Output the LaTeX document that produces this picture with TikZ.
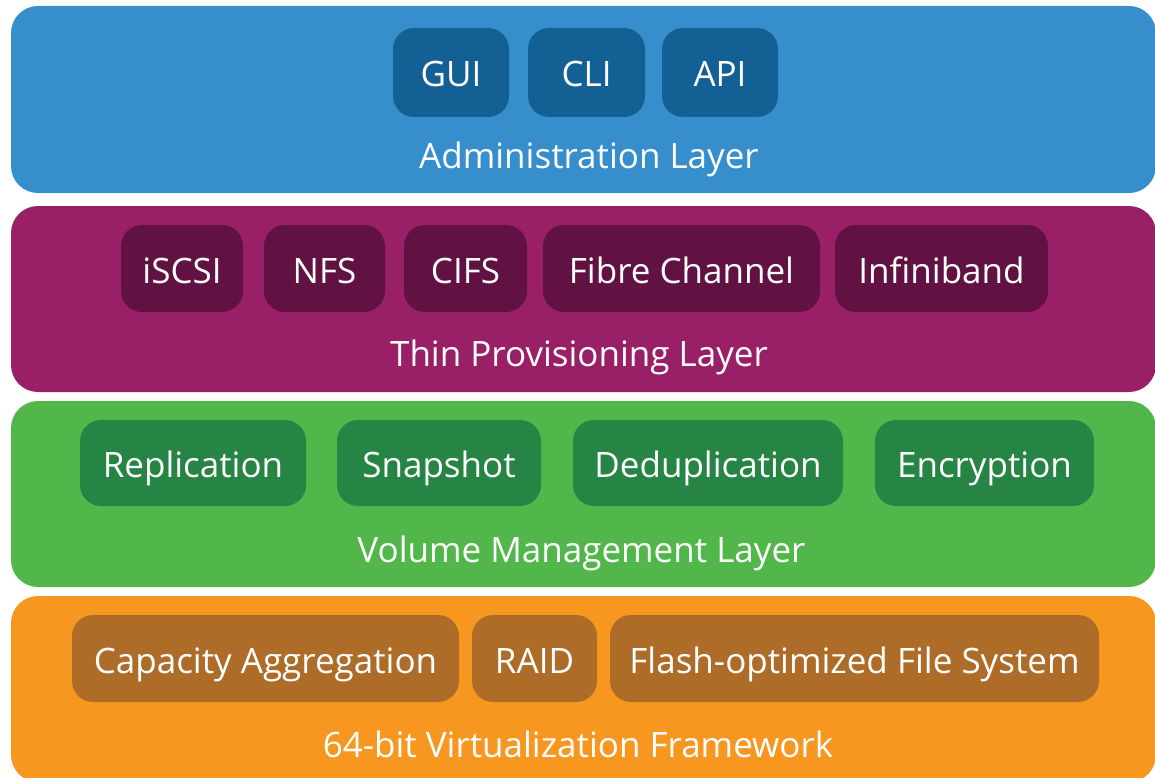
\documentclass[tikz,border=0pt]{standalone}
\usepackage{fontspec}
\setmainfont{Open Sans}
\usepackage{xcolor}
\usetikzlibrary{positioning}
\definecolor{adminbg}{HTML}{368ECC}
\definecolor{admindk}{HTML}{136094}
\definecolor{thinbg}{HTML}{991F67}
\definecolor{thindk}{HTML}{611242}
\definecolor{volbg}{HTML}{52B74A}
\definecolor{voldk}{HTML}{268444}
\definecolor{frambg}{HTML}{F7971F}
\definecolor{framdk}{HTML}{AD6C28}
\tikzset{layer/.style={rectangle,rounded corners=27pt,minimum width=1145pt,inner sep=0pt},
  item/.style={rectangle,rounded corners=21pt,inner sep=0pt,text=white,font=\fontsize{35}{40}\selectfont,text height=34pt,text depth=5pt},
  layertxt/.style={anchor=base,text=white,inner sep=0pt,font=\fontsize{35}{40}\selectfont}}

\begin{document}
\begin{tikzpicture}[x=1pt,y=-1pt]
    \useasboundingbox[fill=white] (0,0) rectangle (1155,778);

    \node[layer,fill=adminbg,minimum height=187pt] (admin)at (583.5,99.5) {};
    \node[layer,fill=thinbg,minimum height=186pt] (thin)at (583.5,299) {};
    \node[layer,fill=volbg,minimum height=186pt] (vol)at (583.5,494) {};
    \node[layer,fill=frambg,minimum height=186pt] (fram)at (583.5,689) {};

    \node[item,fill=admindk,minimum width=116pt,minimum height=89pt] (gui)at (451,72.5) {GUI};
    \node[item,fill=admindk,minimum width=117pt,minimum height=89pt] (cli)at (586.5,72.5) {CLI};
    \node[item,fill=admindk,minimum width=116pt,minimum height=89pt] (api)at (720,72.5) {API};
    \node[layertxt] (adminlbl)at (589,168) {Administration Layer};

    \node[item,fill=thindk,minimum width=122pt,minimum height=87pt] (iscsi)at (182,268.5) {iSCSI};
    \node[item,fill=thindk,minimum width=121pt,minimum height=87pt] (nfs)at (324.5,268.5) {NFS};
    \node[item,fill=thindk,minimum width=123pt,minimum height=87pt] (cifs)at (465.5,268.5) {CIFS};
    \node[item,fill=thindk,minimum width=277pt,minimum height=87pt] (fc)at (681.5,268.5) {Fibre Channel};
    \node[item,fill=thindk,minimum width=213pt,minimum height=87pt] (ib)at (941.5,268.5) {Infiniband};
    \node[layertxt] (thinlbl)at (579,366) {Thin Provisioning Layer};

    \node[item,fill=voldk,minimum width=226pt,minimum height=86pt] (repl)at (193,463) {Replication};
    \node[item,fill=voldk,minimum width=204pt,minimum height=86pt] (snap)at (439,463) {Snapshot};
    \node[item,fill=voldk,minimum width=270pt,minimum height=86pt] (dedup)at (708,463) {Deduplication};
    \node[item,fill=voldk,minimum width=219pt,minimum height=86pt] (encr)at (984.5,463) {Encryption};
    \node[layertxt] (vollbl)at (581.5,562) {Volume Management Layer};

    \node[item,fill=framdk,minimum width=387pt,minimum height=87pt] (capag)at (265.5,658.5) {Capacity Aggregation};
    \node[item,fill=framdk,minimum width=125pt,minimum height=87pt] (raid)at (534.5,658.5) {RAID};
    \node[item,fill=framdk,minimum width=489pt,minimum height=87pt] (flash)at (854.5,658.5) {Flash-optimized File System};
    \node[layertxt] (framlbl)at (578,757) {64-bit Virtualization Framework};
\end{tikzpicture}
\end{document}
